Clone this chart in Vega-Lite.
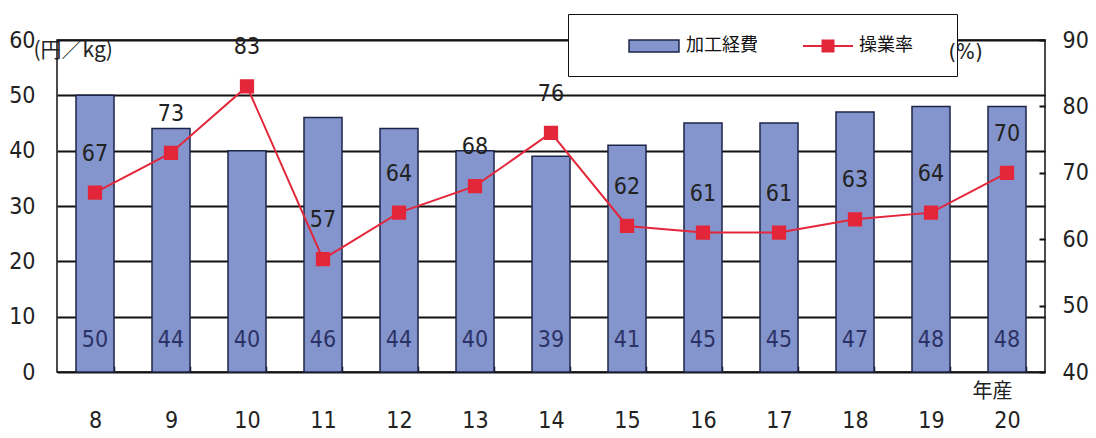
{
  "$schema": "https://vega.github.io/schema/vega-lite/v6.json",
  "width": 988,
  "height": 332,
  "autosize": {"type": "none"},
  "padding": {"left": 57, "top": 40, "right": 51, "bottom": 66},
  "background": "#ffffff",
  "view": {"stroke": "#111111", "strokeWidth": 1.5},
  "config": {
    "font": "'Liberation Sans Narrow', 'DejaVu Sans Condensed', sans-serif"
  },
  "data": {
    "values": [
      {"year": "8", "cost": 50, "rate": 67},
      {"year": "9", "cost": 44, "rate": 73},
      {"year": "10", "cost": 40, "rate": 83},
      {"year": "11", "cost": 46, "rate": 57},
      {"year": "12", "cost": 44, "rate": 64},
      {"year": "13", "cost": 40, "rate": 68},
      {"year": "14", "cost": 39, "rate": 76},
      {"year": "15", "cost": 41, "rate": 62},
      {"year": "16", "cost": 45, "rate": 61},
      {"year": "17", "cost": 45, "rate": 61},
      {"year": "18", "cost": 47, "rate": 63},
      {"year": "19", "cost": 48, "rate": 64},
      {"year": "20", "cost": 48, "rate": 70}
    ]
  },
  "encoding": {
    "x": {
      "field": "year",
      "type": "ordinal",
      "sort": null,
      "scale": {"paddingInner": 0.5, "paddingOuter": 0.25},
      "axis": {
        "domain": false,
        "ticks": true,
        "tickBand": "extent",
        "tickSize": -6,
        "tickColor": "#111111",
        "tickWidth": 1.5,
        "labelAngle": 0,
        "labelFontSize": 23,
        "labelColor": "#222222",
        "labelPadding": 43,
        "labelBaseline": "top",
        "title": "年産",
        "titleFont": "Noto Sans CJK JP",
        "titleFontSize": 20,
        "titleFontWeight": "normal",
        "titleColor": "#222222",
        "titleX": 935,
        "titleY": 19,
        "titleAlign": "center",
        "titleBaseline": "middle",
        "titleAngle": 0
      }
    }
  },
  "layer": [
    {
      "encoding": {
        "y": {
          "field": "cost",
          "type": "quantitative",
          "scale": {"domain": [0, 60], "nice": false, "zero": true},
          "axis": {
            "values": [0, 10, 20, 30, 40, 50, 60],
            "grid": true,
            "gridColor": "#111111",
            "gridWidth": 2,
            "domain": false,
            "ticks": false,
            "labelFontSize": 23,
            "labelColor": "#222222",
            "labelPadding": 22,
            "title": "(円／kg)",
            "titleFont": "Noto Sans CJK JP",
            "titleFontSize": 21,
            "titleFontWeight": "normal",
            "titleColor": "#222222",
            "titleAngle": 0,
            "titleX": -24,
            "titleY": 10,
            "titleAlign": "left",
            "titleBaseline": "middle"
          }
        }
      },
      "layer": [
        {
          "mark": {"type": "bar", "stroke": "#1c2448", "strokeWidth": 1.5},
          "encoding": {
            "fill": {
              "datum": "加工経費",
              "scale": {"range": ["#8494cc"]},
              "legend": {
                "orient": "none",
                "legendX": 511,
                "legendY": -26,
                "zindex": 1,
                "direction": "horizontal",
                "title": "Ｍ",
                "titleOrient": "right",
                "titleColor": "#ffffff",
                "titleFont": "Noto Sans CJK JP",
                "titleFontSize": 18,
                "titlePadding": 161,
                "fillColor": "#ffffff",
                "strokeColor": "#111111",
                "padding": 20,
                "labelFont": "Noto Sans CJK JP",
                "labelFontSize": 18,
                "labelColor": "#111111",
                "labelOffset": 20,
                "labelLimit": 500,
                "symbolType": "M-2.27,-0.55H2.27V0.55H-2.27Z",
                "symbolSize": 484,
                "symbolOffset": 54,
                "symbolFillColor": "#8494cc",
                "symbolStrokeColor": "#1c2448",
                "symbolStrokeWidth": 1.5,
                "symbolOpacity": 1
              }
            }
          }
        },
        {
          "mark": {"type": "text", "fontSize": 23, "color": "#2b3266", "baseline": "middle", "dy": -32},
          "encoding": {
            "y": {"datum": 0, "type": "quantitative"},
            "text": {"field": "cost", "type": "quantitative"}
          }
        }
      ]
    },
    {
      "encoding": {
        "y": {
          "field": "rate",
          "type": "quantitative",
          "scale": {"domain": [40, 90], "nice": false, "zero": false},
          "axis": {
            "orient": "right",
            "zindex": 3,
            "values": [40, 50, 60, 70, 80, 90],
            "grid": false,
            "domain": false,
            "ticks": true,
            "tickSize": -6,
            "tickColor": "#111111",
            "tickWidth": 2,
            "labelFontSize": 23,
            "labelColor": "#222222",
            "labelPadding": 23,
            "title": "(%)",
            "titleFontSize": 22,
            "titleFontWeight": "normal",
            "titleColor": "#222222",
            "titleAngle": 0,
            "titleX": -80,
            "titleY": 11,
            "titleAlign": "center",
            "titleBaseline": "middle"
          }
        }
      },
      "layer": [
        {
          "mark": {"type": "line", "strokeWidth": 2, "color": "#e3263a", "point": {"shape": "square", "size": 150, "filled": true, "fill": "#e3263a", "color": "#e3263a"}},
          "encoding": {
            "stroke": {
              "datum": "操業率",
              "scale": {"range": ["#e3263a"]},
              "legend": {
                "orient": "none",
                "legendX": 725,
                "legendY": -26,
                "zindex": 2,
                "direction": "horizontal",
                "title": null,
                "padding": 20,
                "labelFont": "Noto Sans CJK JP",
                "labelFontSize": 18,
                "labelColor": "#111111",
                "labelOffset": 19,
                "symbolType": "M-2.27,0H2.27M-0.5,-0.5H0.5V0.5H-0.5Z",
                "symbolSize": 484,
                "symbolOffset": 14,
                "symbolFillColor": "#e3263a",
                "symbolStrokeColor": "#e3263a",
                "symbolStrokeWidth": 2,
                "symbolOpacity": 1
              }
            }
          }
        },
        {
          "mark": {"type": "text", "fontSize": 23, "color": "#222222", "baseline": "middle", "dy": -39},
          "encoding": {
            "text": {"field": "rate", "type": "quantitative"}
          }
        }
      ]
    }
  ],
  "resolve": {"scale": {"y": "independent"}}
}
